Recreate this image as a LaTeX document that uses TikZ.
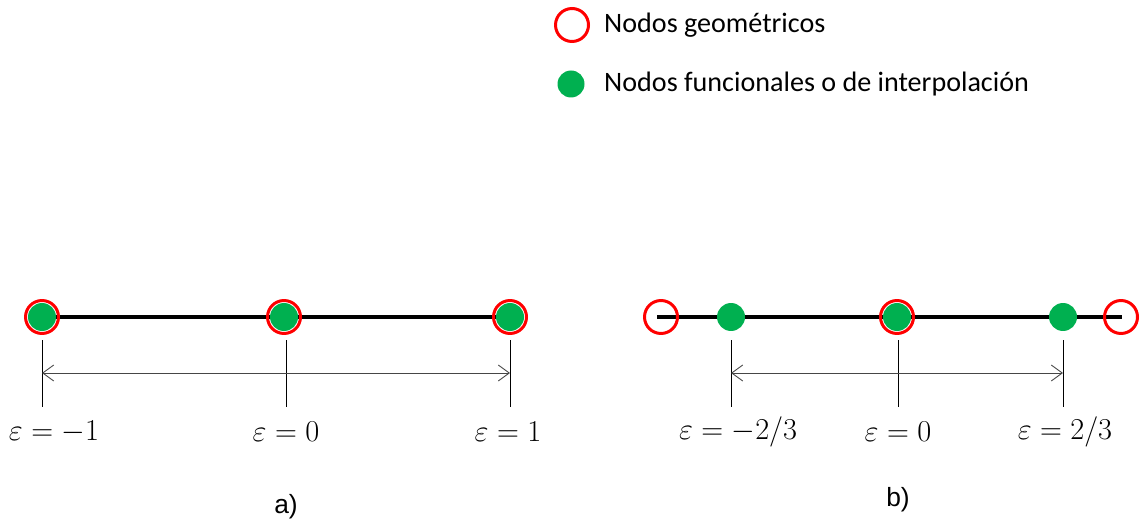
\documentclass[tikz,border=0pt]{standalone}
\usepackage{fontspec}
\setmainfont{Carlito}
\newfontfamily\labelfont{Liberation Sans}
\usepackage{amsmath}
\usetikzlibrary{arrows.meta}
\definecolor{nodeRed}{RGB}{255,0,0}
\definecolor{nodeGreen}{RGB}{0,176,80}
\definecolor{dimGray}{RGB}{70,70,70}
\tikzset{
  geonode/.style={circle,draw=nodeRed,line width=1.7pt,minimum size=0.66cm,inner sep=0pt},
  funnode/.style={circle,fill=nodeGreen,minimum size=0.56cm,inner sep=0pt},
  elem/.style={line width=2.4pt,black},
  tick/.style={line width=0.5pt,black},
  dimarrow/.style={{Straight Barb[length=2.2mm,width=3.2mm]}-{Straight Barb[length=2.2mm,width=3.2mm]},line width=0.5pt,draw=dimGray},
  legtext/.style={anchor=west,font=\fontsize{16}{19}\selectfont},
  eps/.style={font=\fontsize{16}{19}\selectfont},
  panel/.style={font=\labelfont\fontsize{15}{18}\selectfont}
}
\begin{document}
\begin{tikzpicture}[x=0.02cm,y=-0.02cm]
  \useasboundingbox (0,0) rectangle (1145,523);
  % legend
  \node[geonode] (leggeo) at (572,25) {};
  \node[legtext] (leggeotxt) at (598,25) {Nodos geométricos};
  \node[funnode, minimum size=0.54cm] (legfun) at (571,84) {};
  \node[legtext] (legfuntxt) at (598,84) {Nodos funcionales o de interpolación};

  % a) linear element
  \coordinate (aL) at (42,317);
  \coordinate (aR) at (510,317);
  \draw[elem] (aL) -- (aR);
  \node[funnode] (fa1) at (42,317) {};
  \node[funnode] (fa2) at (284,317) {};
  \node[funnode] (fa3) at (510,317) {};
  \node[geonode] (ga1) at (42,317) {};
  \node[geonode] (ga2) at (284,317) {};
  \node[geonode] (ga3) at (510,317) {};
  \coordinate (ta1) at (42,340);  \coordinate (ba1) at (42,407);
  \coordinate (ta2) at (286,340); \coordinate (ba2) at (286,407);
  \coordinate (ta3) at (510,340); \coordinate (ba3) at (510,407);
  \draw[tick] (ta1) -- (ba1);
  \draw[tick] (ta2) -- (ba2);
  \draw[tick] (ta3) -- (ba3);
  \coordinate (da1) at (42,373);
  \coordinate (da3) at (510,373);
  \draw[dimarrow] (da1) -- (da3);
  \node[eps] (ea1) at (54,432) {$\varepsilon=-1$};
  \node[eps] (ea2) at (286,432) {$\varepsilon=0$};
  \node[eps] (ea3) at (508,432) {$\varepsilon=1$};
  \node[panel] (pa) at (286,507) {a)};

  % b) cubic element
  \coordinate (bL) at (657,317);
  \coordinate (bR) at (1122,317);
  \draw[elem] (bL) -- (bR);
  \node[funnode] (fb1) at (731,317) {};
  \node[funnode] (fb2) at (897,317) {};
  \node[funnode] (fb3) at (1063,317) {};
  \node[geonode] (gb1) at (661,317) {};
  \node[geonode] (gb2) at (897,317) {};
  \node[geonode] (gb3) at (1121,317) {};
  \coordinate (tb1) at (731,340);  \coordinate (bb1) at (731,407);
  \coordinate (tb2) at (898,340);  \coordinate (bb2) at (898,407);
  \coordinate (tb3) at (1063,340); \coordinate (bb3) at (1063,407);
  \draw[tick] (tb1) -- (bb1);
  \draw[tick] (tb2) -- (bb2);
  \draw[tick] (tb3) -- (bb3);
  \coordinate (db1) at (731,373);
  \coordinate (db3) at (1063,373);
  \draw[dimarrow] (db1) -- (db3);
  \node[eps] (eb1) at (738,432) {$\varepsilon=-2/3$};
  \node[eps] (eb2) at (898,432) {$\varepsilon=0$};
  \node[eps] (eb3) at (1065,432) {$\varepsilon=2/3$};
  \node[panel] (pb) at (898,500) {b)};
\end{tikzpicture}
\end{document}
